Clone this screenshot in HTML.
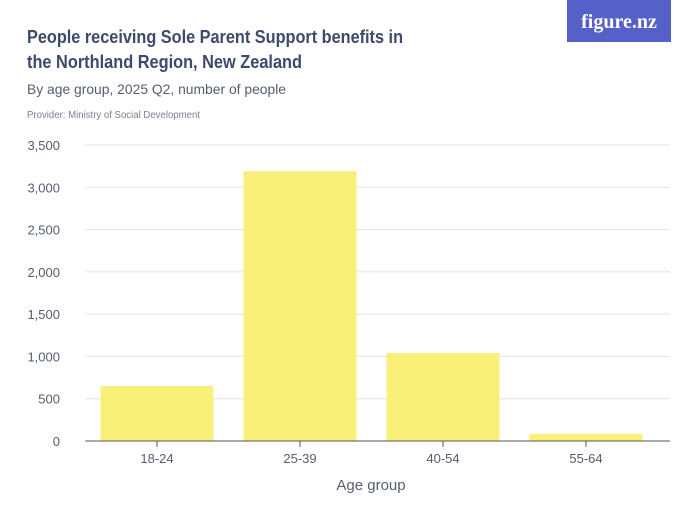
<!DOCTYPE html>
<html><head><meta charset="utf-8"><style>
body{margin:0;background:#fff;font-family:"Liberation Sans",sans-serif;}
#c{position:relative;width:700px;height:525px;overflow:hidden}
</style></head><body>
<div id="c">
<svg width="700" height="525" xmlns="http://www.w3.org/2000/svg" id="svg">
<text x="27" y="43" font-size="18" font-weight="bold" fill="#3d4a6b" textLength="376" lengthAdjust="spacingAndGlyphs">People receiving Sole Parent Support benefits in</text>
<text x="27" y="68" font-size="18" font-weight="bold" fill="#3d4a6b" textLength="275" lengthAdjust="spacingAndGlyphs">the Northland Region, New Zealand</text>
<text x="27" y="94" font-size="14" fill="#555d70" textLength="259" lengthAdjust="spacingAndGlyphs">By age group, 2025 Q2, number of people</text>
<text x="27" y="118" font-size="10" fill="#7a8194" textLength="173" lengthAdjust="spacingAndGlyphs">Provider: Ministry of Social Development</text>
<rect x="567" y="0" width="104" height="42" fill="#5560c8"/>
<text x="619" y="28" font-size="20" font-weight="bold" fill="#fff" text-anchor="middle" font-family="Liberation Serif, serif">figure.nz</text>
<g id="grid"></g><g id="bars"></g><g id="axes"></g>
<text x="371" y="490" font-size="15" fill="#555d70" text-anchor="middle">Age group</text>
</svg></div>
<script>
const categories=["18-24","25-39","40-54","55-64"];
const values=[650,3190,1040,85];
const yTicks=[0,500,1000,1500,2000,2500,3000,3500];
const yTickLabels=["0","500","1,000","1,500","2,000","2,500","3,000","3,500"];
const NS="http://www.w3.org/2000/svg";
const x0=85.5,x1=657.5,gx1=670,y0=441,y1=145,yMax=3500;
const y=v=>y0-(v/yMax)*(y0-y1);
const band=(x1-x0)/categories.length;
const xc=i=>x0+band*(i+0.5);
function mk(t,a,p){const e=document.createElementNS(NS,t);for(const k in a)e.setAttribute(k,a[k]);p.appendChild(e);return e;}
const grid=document.getElementById('grid'),bars=document.getElementById('bars'),axes=document.getElementById('axes');
yTicks.forEach((t,i)=>{
 if(t>0){const l=mk('line',{x1:x0,x2:gx1,y1:y(t),y2:y(t),stroke:'#e3e3e3','stroke-width':1},grid);
 
 }
 const tx=mk('text',{x:60,y:y(t)+5,'font-size':13,fill:'#555d70','text-anchor':'end'},axes);
 tx.textContent=yTickLabels[i];
 
 
});
const base=mk('line',{x1:x0,x2:gx1,y1:y0,y2:y0,stroke:'#555','stroke-width':1},axes);


categories.forEach((c,i)=>{
 const bw=band*0.79;
 const r=mk('rect',{x:xc(i)-bw/2,y:y(values[i]),width:bw,height:y0-y(values[i]),fill:'#f9f07a'},bars);
 
 
 const tk=mk('line',{x1:xc(i),x2:xc(i),y1:y0,y2:y0+6,stroke:'#555'},axes);
 
 
 const t=mk('text',{x:xc(i),y:y0+22,'font-size':13,fill:'#555d70','text-anchor':'middle'},axes);
 t.textContent=c;
 
 
});
</script>
</body></html>
